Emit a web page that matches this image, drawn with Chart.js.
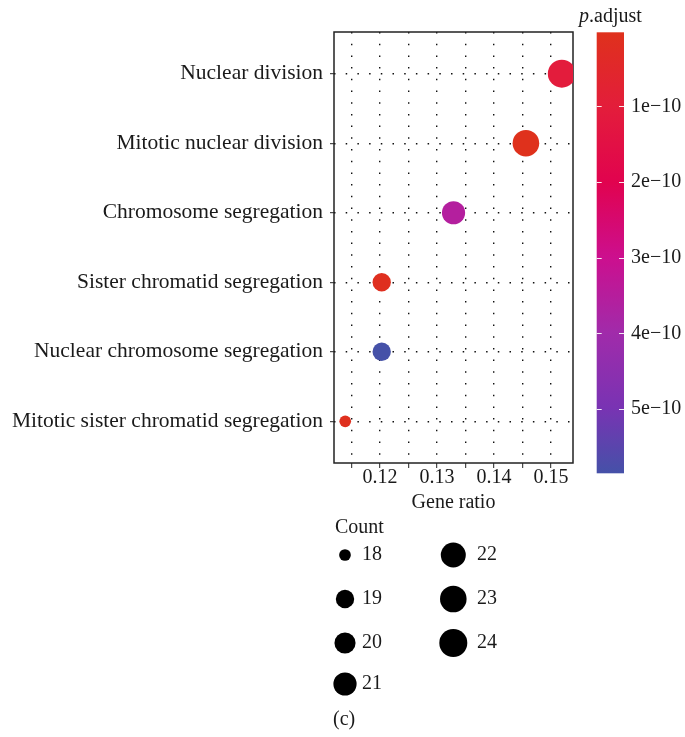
<!DOCTYPE html>
<html><head><meta charset="utf-8">
<script src="https://cdn.jsdelivr.net/npm/chart.js@4"></script>
<style>
html,body{margin:0;padding:0;background:#fff;}
#wrap{position:relative;width:685px;height:737px;overflow:hidden;}
#main{position:absolute;left:0;top:0;}
#cbar{position:absolute;left:560px;top:0;}
</style></head><body>
<div id="wrap"><canvas id="main" width="685" height="737"></canvas><canvas id="cbar" width="125" height="737"></canvas></div>
<script>
// ---- data ----
const categories = ['Nuclear division','Mitotic nuclear division','Chromosome segregation','Sister chromatid segregation','Nuclear chromosome segregation','Mitotic sister chromatid segregation'];
const geneRatio = [0.1519, 0.1456, 0.1329, 0.1203, 0.1203, 0.1139];
const counts = [24, 23, 21, 19, 19, 18];
const pAdjust = [1.05e-10, 2e-12, 3.55e-10, 1.2e-11, 5.85e-10, 8e-12];
const xTicks = [0.115, 0.12, 0.125, 0.13, 0.135, 0.14, 0.145, 0.15];
const xTickLabels = ['', '0.12', '', '0.13', '', '0.14', '', '0.15'];
const pTicks = [1e-10, 2e-10, 3e-10, 4e-10, 5e-10];
const pTickLabels = ['1e\u221210','2e\u221210','3e\u221210','4e\u221210','5e\u221210'];
const countLegend = [18, 19, 20, 21, 22, 23, 24];

// ---- styles ----
const FONT = '"Liberation Serif", "DejaVu Serif", serif';
const TXT = '#1a1a1a';
const colorStops = [[0,'#DF311C'],[0.17,'#E31D3B'],[0.34,'#E1034F'],[0.51,'#CC0F8E'],[0.68,'#A12BAA'],[0.85,'#7933B3'],[1,'#4551A8']];
const pMin = Math.min(...pAdjust), pMax = Math.max(...pAdjust);
const cMin = Math.min(...counts), cMax = Math.max(...counts);
function hex2rgb(h){return [1,3,5].map(i=>parseInt(h.substr(i,2),16));}
function colorFor(p){
  const t = (p - pMin) / (pMax - pMin);
  for (let i=1;i<colorStops.length;i++){
    if (t <= colorStops[i][0] + 1e-9){
      const [t0,c0]=colorStops[i-1],[t1,c1]=colorStops[i];
      const f=(t-t0)/(t1-t0), a=hex2rgb(c0), b=hex2rgb(c1);
      return 'rgb('+a.map((v,k)=>Math.round(v+(b[k]-v)*f)).join(',')+')';
    }
  }
  return colorStops[colorStops.length-1][1];
}
function radiusFor(c){ return 5.85 + Math.sqrt((c - cMin)/(cMax - cMin)) * 8.15; }

const points = categories.map((c,i)=>({x: geneRatio[i], y: i, r: radiusFor(counts[i])}));

const framePlugin = {
  id:'frame',
  beforeDatasetsDraw(chart){
    const {ctx, chartArea:a} = chart;
    ctx.save(); ctx.strokeStyle='#222'; ctx.lineWidth=1.5;
    ctx.strokeRect(a.left, a.top, a.width, a.height);
    ctx.restore();
  },
  afterDraw(chart){
    const ctx = chart.ctx;
    ctx.save();
    ctx.fillStyle = TXT; ctx.font = '20px '+FONT; ctx.textBaseline='middle'; ctx.textAlign='left';
    ctx.fillText('Count', 335, 528);
    const colX = [345, 453.3], labX = [362, 477], rowY = [555, 599, 643, 684];
    countLegend.forEach((c,i)=>{
      const col = i < 4 ? 0 : 1, row = i < 4 ? i : i-4;
      ctx.fillStyle = '#000';
      ctx.beginPath(); ctx.arc(colX[col], rowY[row], radiusFor(c), 0, Math.PI*2); ctx.fill();
      ctx.fillStyle = TXT;
      ctx.fillText(String(c), labX[col], rowY[row]);
    });
    ctx.fillText('(c)', 333, 720);
    ctx.restore();
  }
};

new Chart(document.getElementById('main'), {
  type:'bubble',
  data:{datasets:[{data:points, backgroundColor: pAdjust.map(colorFor), borderWidth:0, hoverBorderWidth:0}]},
  options:{
    responsive:false, animation:false, devicePixelRatio:1,
    layout:{padding:{left:0, top:32, right:112, bottom:0}},
    plugins:{legend:{display:false}, tooltip:{enabled:false}},
    scales:{
      x:{type:'linear', min:0.11193, max:0.15386,
        afterBuildTicks:s=>{s.ticks = xTicks.map(v=>({value:v}));},
        afterFit:s=>{s.height = 274;},
        ticks:{callback:(v,i)=>xTickLabels[i], font:{family:FONT,size:20}, color:TXT, padding:-2, maxRotation:0, autoSkip:false},
        grid:{color:'#111', lineWidth:1.4, tickLength:5, tickColor:'#222', tickWidth:1},
        border:{display:false, dash:[1.5,10.2]},
        title:{display:true, text:'Gene ratio', font:{family:FONT,size:20}, color:TXT, padding:{top:0,bottom:222}}
      },
      y:{type:'linear', min:-0.6, max:5.6, reverse:true,
        afterBuildTicks:s=>{s.ticks = categories.map((c,i)=>({value:i}));},
        afterFit:s=>{s.width = 334;},
        ticks:{callback:(v,i)=>categories[i], font:{family:FONT,size:21.5}, color:TXT, padding:7, autoSkip:false},
        grid:{color:'#111', lineWidth:1.4, tickLength:4, tickColor:'#222', tickWidth:1},
        border:{display:false, dash:[1.5,10.2]}
      }
    }
  },
  plugins:[framePlugin]
});

const cbarPlugin = {
  id:'cbar',
  beforeDraw(chart){
    const {ctx, chartArea:a} = chart;
    const ys = chart.scales.y;
    ctx.save();
    const g = ctx.createLinearGradient(0, ys.getPixelForValue(pMin), 0, ys.getPixelForValue(pMax));
    colorStops.forEach(([t,c])=>g.addColorStop(t,c));
    ctx.fillStyle = g;
    ctx.fillRect(a.left, a.top, a.width, a.height);
    ctx.strokeStyle = 'rgba(255,255,255,0.9)'; ctx.lineWidth = 1;
    pTicks.forEach(v=>{
      const y = Math.round(ys.getPixelForValue(v))+0.5;
      ctx.beginPath(); ctx.moveTo(a.left, y); ctx.lineTo(a.left+5, y);
      ctx.moveTo(a.right-5, y); ctx.lineTo(a.right, y); ctx.stroke();
    });
    ctx.fillStyle = TXT; ctx.textBaseline='alphabetic'; ctx.textAlign='left';
    ctx.font = 'italic 20px '+FONT;
    ctx.fillText('p', 19, 22);
    const w = ctx.measureText('p').width;
    ctx.font = '20px '+FONT;
    ctx.fillText('.adjust', 19+w, 22);
    ctx.restore();
  }
};

new Chart(document.getElementById('cbar'), {
  type:'scatter',
  data:{datasets:[{data:[]}]},
  options:{
    responsive:false, animation:false, devicePixelRatio:1,
    layout:{padding:{left:36.7, top:32.3, bottom:263.7, right:0}},
    plugins:{legend:{display:false}, tooltip:{enabled:false}},
    scales:{
      x:{display:false},
      y:{position:'right', min:pMin, max:pMax, reverse:true,
        afterBuildTicks:s=>{s.ticks = pTicks.map(v=>({value:v}));},
        afterFit:s=>{s.width = 125-36.7-27.3;},
        ticks:{callback:(v,i)=>pTickLabels[i], font:{family:FONT,size:20}, color:TXT, padding:7},
        grid:{display:false, drawTicks:false}, border:{display:false}
      }
    }
  },
  plugins:[cbarPlugin]
});
</script>
</body></html>
